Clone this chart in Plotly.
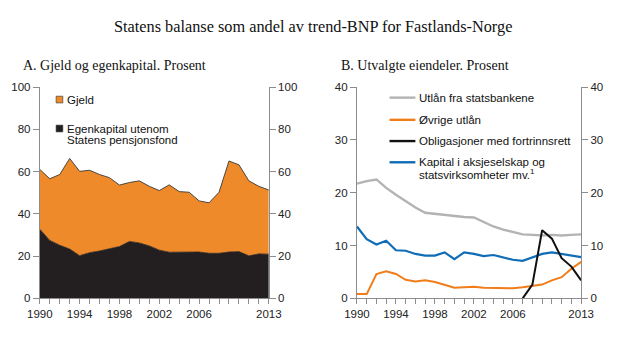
import plotly.graph_objects as go

# ---- data ----
years = list(range(1990, 2014))

# Panel A: liabilities and equity, percent of trend GDP
egenkapital = [32.7, 27.4, 25.1, 23.3, 20.2, 21.6, 22.4, 23.6, 24.5, 26.9, 26.2, 24.8,
               22.8, 21.8, 21.8, 22.1, 21.9, 21.3, 21.3, 21.9, 22.1, 20.1, 21.0, 20.9]
gjeld = [28.3, 29.2, 33.5, 42.9, 39.9, 39.0, 36.2, 33.5, 29.1, 27.9, 29.4, 28.2,
         28.2, 31.9, 28.7, 28.1, 24.2, 23.9, 28.9, 43.1, 41.1, 35.5, 32.0, 30.4]

# Panel B: selected assets, percent
utlan_statsbank = [21.7, 22.2, 22.5, 20.9, 19.6, 18.4, 17.2, 16.2, 16.0, 15.8, 15.5, 15.4,
                   15.3, 14.5, 13.6, 13.0, 12.5, 12.1, 12.0, 11.9, 12.0, 11.9, 12.0, 12.1]
ovrige_utlan = [0.8, 0.8, 4.6, 5.1, 4.6, 3.5, 3.2, 3.4, 3.1, 2.6, 2.0, 2.1,
                2.2, 2.0, 1.95, 1.95, 1.9, 2.1, 2.3, 2.6, 3.4, 4.0, 5.6, 6.9]
obligasjoner = [None] * 17 + [0.0, 2.6, 12.9, 11.3, 7.6, 6.0, 3.4]
kapital_as = [13.6, 11.2, 10.2, 10.9, 9.1, 9.0, 8.4, 8.1, 8.1, 8.7, 7.4, 8.7,
              8.4, 8.0, 8.2, 7.8, 7.3, 7.1, 7.7, 8.4, 8.7, 8.4, 8.1, 7.8]

label_years = [1990, 1994, 1998, 2002, 2006, 2013]
label_text = ["1990", "1994", "1998", "2002", "2006", "2013"]

ORANGE = "#ee8a2a"
LINE_ORANGE = "#f07d1a"
BLACK = "#231f20"
GREY = "#b3b3b3"
BLUE = "#0f6cb6"
AXIS = "#8c8c8c"
FONT = "Liberation Sans"
SERIF = "Liberation Serif"

fig = go.Figure()

# Panel A stacked areas
fig.add_trace(go.Scatter(x=years, y=egenkapital, stackgroup="a", mode="lines",
                         line=dict(color=BLACK, width=0.8), fillcolor=BLACK,
                         xaxis="x", yaxis="y", showlegend=False, hoverinfo="skip"))
fig.add_trace(go.Scatter(x=years, y=gjeld, stackgroup="a", mode="lines",
                         line=dict(color="#3a3a3a", width=0.9), fillcolor=ORANGE,
                         xaxis="x", yaxis="y", showlegend=False, hoverinfo="skip"))

# Panel B lines
for vals, col, w in [(utlan_statsbank, GREY, 2.4), (ovrige_utlan, LINE_ORANGE, 2.0),
                     (kapital_as, BLUE, 2.2), (obligasjoner, "#111111", 2.0)]:
    fig.add_trace(go.Scatter(x=years, y=vals, mode="lines", line=dict(color=col, width=w),
                             xaxis="x2", yaxis="y2", showlegend=False, hoverinfo="skip"))

# placeholders so the right-hand axes are drawn
fig.add_trace(go.Scatter(x=[1990], y=[0], mode="markers", marker=dict(opacity=0),
                         xaxis="x", yaxis="y3", showlegend=False, hoverinfo="skip"))
fig.add_trace(go.Scatter(x=[1990], y=[0], mode="markers", marker=dict(opacity=0),
                         xaxis="x2", yaxis="y4", showlegend=False, hoverinfo="skip"))

W, H = 620, 340
xa = (28 / W, 267 / W)
xb = (359 / W, 593 / W)
yd = (1 - 303 / H, 1 - 84 / H)

tickfont = dict(family=FONT, size=11.5, color="#222")

def xaxis(domain, anchor):
    return dict(domain=domain, anchor=anchor, range=[1990, 2013], tickmode="array",
                tickvals=label_years, ticktext=label_text, ticks="outside", ticklen=5,
                tickcolor=AXIS,
                minor=dict(tickmode="linear", tick0=1990, dtick=1, ticks="outside",
                           ticklen=5, tickcolor=AXIS, showgrid=False),
                showline=True, linecolor=AXIS, linewidth=1,
                showgrid=False, zeroline=False, tickfont=tickfont, fixedrange=True)

def yaxis(domain, anchor, rng, dtick, side="left", overlaying=None):
    d = dict(domain=domain, anchor=anchor, range=rng, dtick=dtick, tick0=0,
             ticks="outside", ticklen=6, tickcolor=AXIS, showline=True, linecolor=AXIS,
             linewidth=1, showgrid=False, zeroline=False, tickfont=tickfont, side=side,
             fixedrange=True)
    if overlaying:
        d["overlaying"] = overlaying
    return d

fig.update_layout(
    width=W, height=H, margin=dict(l=0, r=0, t=0, b=0),
    paper_bgcolor="white", plot_bgcolor="white",
    xaxis=xaxis(xa, "y"),
    xaxis2=xaxis(xb, "y2"),
    yaxis=yaxis(yd, "x", [0, 100], 20),
    yaxis3=yaxis(yd, "x", [0, 100], 20, side="right", overlaying="y"),
    yaxis2=yaxis(yd, "x2", [0, 40], 10),
    yaxis4=yaxis(yd, "x2", [0, 40], 10, side="right", overlaying="y2"),
)

def px(x, y):
    return x / W, 1 - y / H

annotations = []
shapes = []

def text(x, y, s, size=11.5, family=FONT, xanchor="left"):
    ax, ay = px(x, y)
    annotations.append(dict(x=ax, y=ay, xref="paper", yref="paper", text=s, showarrow=False,
                            xanchor=xanchor, yanchor="middle", borderpad=0,
                            font=dict(family=family, size=size, color="#111")))

# titles
text(313, 21, "Statens balanse som andel av trend-BNP for Fastlands-Norge", size=16.3,
     family=SERIF, xanchor="center")
text(9, 62, "A. Gjeld og egenkapital. Prosent", size=14, family=SERIF)
text(341, 62, "B. Utvalgte eiendeler. Prosent", size=14, family=SERIF)

# Panel A legend
for yy, col in [(97, ORANGE), (127, BLACK)]:
    x0, y0 = px(45, yy - 3.5)
    x1, y1 = px(52, yy + 3.5)
    shapes.append(dict(type="rect", xref="paper", yref="paper", x0=x0, x1=x1, y0=y1, y1=y0,
                       fillcolor=col, line=dict(color="#333", width=0.6)))
text(55, 97, "Gjeld")
text(55, 127, "Egenkapital utenom")
text(55, 139, "Statens pensjonsfond")

# Panel B legend
for yy, col in [(95, GREY), (118, LINE_ORANGE), (140, "#111111"), (162, BLUE)]:
    x0, y0 = px(393, yy)
    x1, _ = px(420, yy)
    shapes.append(dict(type="line", xref="paper", yref="paper", x0=x0, x1=x1, y0=y0, y1=y0,
                       line=dict(color=col, width=2.4)))
text(423, 95, "Utlån fra statsbankene")
text(423, 118, "Øvrige utlån")
text(423, 140, "Obligasjoner med fortrinnsrett")
text(423, 162, "Kapital i aksjeselskap og")
text(423, 174, "statsvirksomheter mv.<sup>1</sup>")

fig.update_layout(annotations=annotations, shapes=shapes)

fig.write_html("out.html")
